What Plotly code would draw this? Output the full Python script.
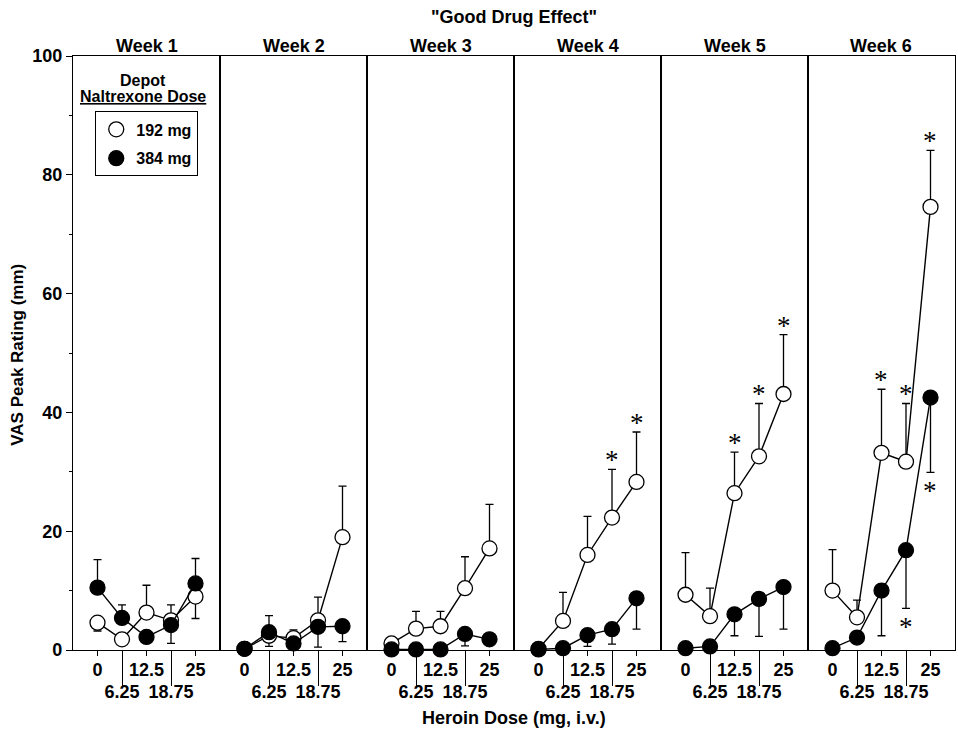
import plotly.graph_objects as go

# ---------------- data ----------------
weeks = ["Week 1", "Week 2", "Week 3", "Week 4", "Week 5", "Week 6"]
doses = [0, 6.25, 12.5, 18.75, 25]
upper_label_doses = [0, 12.5, 25]
lower_label_doses = [6.25, 18.75]
y_tick_values = [0, 20, 40, 60, 80, 100]

# 192 mg depot naltrexone (open circles)
mg192 = [
    [4.6, 1.8, 6.3, 5.0, 9.0],
    [0.2, 2.4, 2.0, 5.0, 19.0],
    [1.1, 3.6, 4.0, 10.4, 17.1],
    [0.2, 4.9, 16.0, 22.3, 28.3],
    [9.3, 5.7, 26.4, 32.6, 43.1],
    [10.0, 5.5, 33.2, 31.7, 74.6],
]
mg192_err_up = [
    [0, 0, 4.6, 2.6, 0],
    [0, 0, 1.4, 3.9, 8.6],
    [0, 2.9, 2.5, 5.3, 7.4],
    [0, 4.8, 6.5, 8.1, 8.4],
    [7.1, 4.7, 6.9, 8.9, 10.0],
    [6.9, 2.9, 10.7, 9.8, 9.5],
]
mg192_err_dn = [
    [1.4, 0, 0, 0, 3.7],
    [0, 1.8, 0, 0, 0],
    [0, 0, 0, 0, 0],
    [0, 0, 0, 0, 0],
    [0, 0, 0, 0, 0],
    [0, 0, 0, 0, 0],
]
mg192_sig = [
    [0, 0, 0, 0, 0],
    [0, 0, 0, 0, 0],
    [0, 0, 0, 0, 0],
    [0, 0, 0, 1, 1],
    [0, 0, 1, 1, 1],
    [0, 0, 1, 1, 1],
]

# 384 mg depot naltrexone (filled circles)
mg384 = [
    [10.5, 5.4, 2.2, 4.2, 11.2],
    [0.2, 3.0, 1.1, 3.9, 4.0],
    [0.1, 0.1, 0.1, 2.7, 1.8],
    [0.1, 0.3, 2.5, 3.5, 8.7],
    [0.3, 0.6, 6.0, 8.6, 10.6],
    [0.3, 2.1, 10.0, 16.8, 42.5],
]
mg384_err_up = [
    [4.7, 2.2, 0, 0, 4.2],
    [0, 2.8, 0, 0, 0],
    [0, 0, 0, 0, 0],
    [0, 0, 0, 0, 0],
    [0, 0, 0, 0, 0],
    [0, 0, 0, 0, 0],
]
mg384_err_dn = [
    [0, 0, 0, 3.1, 0],
    [0, 0, 0, 3.4, 2.6],
    [0, 0, 0, 2.0, 0],
    [0, 0, 1.9, 2.5, 5.2],
    [0, 0, 3.6, 6.3, 7.1],
    [0, 0, 7.6, 9.8, 12.6],
]
mg384_sig = [
    [0, 0, 0, 0, 0],
    [0, 0, 0, 0, 0],
    [0, 0, 0, 0, 0],
    [0, 0, 0, 0, 0],
    [0, 0, 0, 0, 0],
    [0, 0, 0, 1, 1],
]

# ---------------- styling ----------------
SANS = "Liberation Sans, Arial, Helvetica, sans-serif"
SERIF = "Liberation Serif, Times New Roman, serif"
BLACK = "#000000"
STAR_COLOR = "#000000"
N = len(weeks)
W = 1.0 / N


def err_arrays(up, dn):
    plus, minus = [], []
    for u, d in zip(up, dn):
        if u == 0 and d == 0:
            plus.append(None)
            minus.append(None)
        else:
            plus.append(u)
            minus.append(d)
    return plus, minus


fig = go.Figure()
annotations = []

for i in range(N):
    xa = "x" if i == 0 else f"x{i + 1}"
    ya = "y" if i == 0 else f"y{i + 1}"
    for vals, up, dn, sig, fill in (
        (mg192[i], mg192_err_up[i], mg192_err_dn[i], mg192_sig[i], "white"),
        (mg384[i], mg384_err_up[i], mg384_err_dn[i], mg384_sig[i], BLACK),
    ):
        plus, minus = err_arrays(up, dn)
        fig.add_trace(go.Scatter(
            x=doses, y=vals, xaxis=xa, yaxis=ya,
            mode="lines+markers",
            line=dict(color=BLACK, width=1.4),
            marker=dict(symbol="circle", size=15, color=fill,
                        line=dict(color=BLACK, width=1.3)),
            error_y=dict(type="data", symmetric=False, array=plus,
                         arrayminus=minus, color=BLACK, thickness=1.3,
                         width=4),
            cliponaxis=False, showlegend=False, hoverinfo="skip",
        ))
        for d, v, u, m, s in zip(doses, vals, up, dn, sig):
            if not s:
                continue
            if u > 0:
                annotations.append(dict(
                    x=d, y=v + u, xref=xa, yref=ya, text="*",
                    showarrow=False, xanchor="center", yanchor="middle",
                    yshift=9,
                    font=dict(family=SERIF, size=27, color=STAR_COLOR)))
            else:
                annotations.append(dict(
                    x=d, y=v - m, xref=xa, yref=ya, text="*",
                    showarrow=False, xanchor="center", yanchor="middle",
                    yshift=-19,
                    font=dict(family=SERIF, size=27, color=STAR_COLOR)))
    # second-row tick axis (overlay) carrying the 6.25 / 18.75 labels
    fig.add_trace(go.Scatter(x=[None], y=[None], xaxis=f"x{i + 1 + N}",
                             yaxis=ya, showlegend=False, hoverinfo="skip"))
    annotations.append(dict(
        text=weeks[i], xref=f"{xa} domain", x=0.5, yref="paper", y=1,
        xanchor="center", yanchor="bottom", yshift=-2, showarrow=False,
        font=dict(family=SANS, size=18, color=BLACK, weight="bold")))

# legend-only traces
fig.add_trace(go.Scatter(x=[None], y=[None], mode="markers", name="192 mg",
                         legendgroup="a",
                         marker=dict(symbol="circle", size=15, color="white",
                                     line=dict(color=BLACK, width=1.3))))
fig.add_trace(go.Scatter(x=[None], y=[None], mode="markers", name="384 mg",
                         legendgroup="b",
                         marker=dict(symbol="circle", size=15, color=BLACK,
                                     line=dict(color=BLACK, width=1.3))))

layout = dict(
    width=958, height=734,
    margin=dict(l=73, r=3, t=56, b=84),
    paper_bgcolor="white", plot_bgcolor="white",
    font=dict(family=SANS, size=18, color=BLACK),
    showlegend=True,
    legend=dict(x=0.025, y=0.907, xanchor="left", yanchor="top",
                bordercolor=BLACK, borderwidth=1.2, bgcolor="white",
                font=dict(family=SANS, size=16, color=BLACK, weight="bold"),
                traceorder="grouped", tracegroupgap=5,
                itemsizing="trace"),
)

for i in range(N):
    key = "xaxis" if i == 0 else f"xaxis{i + 1}"
    yname = "y" if i == 0 else f"y{i + 1}"
    layout[key] = dict(
        domain=[i * W, (i + 1) * W], anchor=yname, range=[-6.25, 31.25],
        showgrid=False, zeroline=False, showline=True, mirror=True,
        linecolor=BLACK, linewidth=1.3,
        tickmode="array", tickvals=upper_label_doses,
        ticktext=[f"{v:g}" for v in upper_label_doses],
        ticks="outside", ticklen=5, tickwidth=1.2, tickcolor=BLACK,
        ticklabelstandoff=-2,
        tickfont=dict(family=SANS, size=18, color=BLACK, weight="bold"),
        fixedrange=True,
    )
    layout[f"xaxis{i + 1 + N}"] = dict(
        overlaying="x" if i == 0 else f"x{i + 1}", anchor=yname,
        side="bottom", range=[-6.25, 31.25],
        showgrid=False, zeroline=False, showline=False,
        tickmode="array", tickvals=lower_label_doses,
        ticktext=[f"{v:g}" for v in lower_label_doses],
        ticks="outside", ticklen=35, tickwidth=1.2, tickcolor=BLACK,
        ticklabelstandoff=-10,
        tickfont=dict(family=SANS, size=18, color=BLACK, weight="bold"),
        fixedrange=True,
    )
    ykey = "yaxis" if i == 0 else f"yaxis{i + 1}"
    xname = "x" if i == 0 else f"x{i + 1}"
    ydict = dict(
        domain=[0, 1], anchor=xname, range=[0, 100],
        showgrid=False, zeroline=False, showline=True, mirror=True,
        linecolor=BLACK, linewidth=1.3, fixedrange=True,
    )
    if i == 0:
        ydict.update(
            tickmode="array", tickvals=y_tick_values,
            ticks="outside", ticklen=6, tickwidth=1.2, tickcolor=BLACK,
            tickfont=dict(family=SANS, size=18, color=BLACK, weight="bold"),
            minor=dict(dtick=10, ticks="outside", ticklen=3, tickwidth=1,
                       tickcolor=BLACK),
        )
    else:
        ydict.update(showticklabels=False, ticks="", matches="y")
    layout[ykey] = ydict

annotations += [
    dict(text='"Good Drug Effect"', xref="paper", x=0.5, yref="paper",
         y=1.066, xanchor="center", yanchor="middle", showarrow=False,
         font=dict(family=SANS, size=18, color=BLACK, weight="bold")),
    dict(text="Heroin Dose (mg, i.v.)", xref="paper", x=0.5, yref="paper",
         y=-0.1145, xanchor="center", yanchor="middle", showarrow=False,
         font=dict(family=SANS, size=18, color=BLACK, weight="bold")),
    dict(text="VAS Peak Rating (mm)", xref="paper", x=-0.0624,
         yref="paper", y=0.497, textangle=-90, showarrow=False,
         xanchor="center", yanchor="middle",
         font=dict(family=SANS, size=17, color=BLACK, weight="bold")),
    dict(text="Depot", xref="paper", x=0.0795, yref="paper",
         y=(650 - 80) / 594, xanchor="center", yanchor="middle",
         showarrow=False,
         font=dict(family=SANS, size=16, color=BLACK, weight="bold")),
    dict(text="<u>Naltrexone Dose</u>", xref="paper", x=0.0795,
         yref="paper", y=(650 - 97) / 594, xanchor="center",
         yanchor="middle", showarrow=False,
         font=dict(family=SANS, size=16, color=BLACK, weight="bold")),
]
layout["annotations"] = annotations

fig.update_layout(**layout)
fig.write_html(
    "out.html",
    config={"displayModeBar": False},
    post_script="document.body.style.margin='0px';"
                "document.body.style.padding='0px';",
)
